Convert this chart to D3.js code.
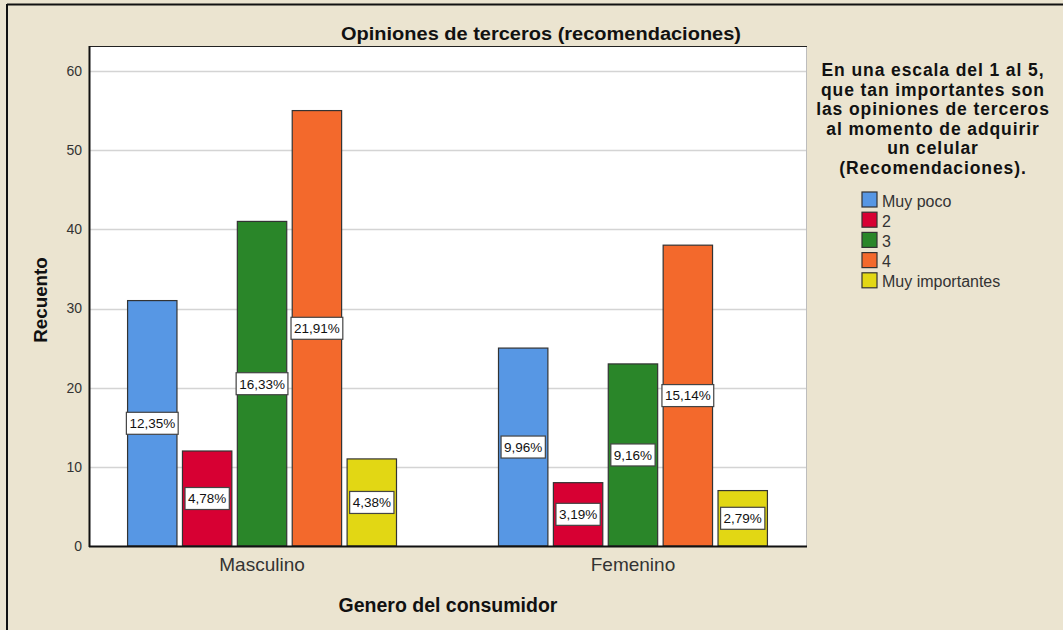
<!DOCTYPE html>
<html lang="es">
<head>
<meta charset="utf-8">
<script src="https://d3js.org/d3.v7.min.js"></script>
<style>
  body { margin: 0; background: #ebe4d0; }
  svg { display: block; font-family: Arial, "Liberation Sans", sans-serif; }
</style>
</head>
<body>
<script>
    var width  = 1063;
    var height = 630;

    // data
    var groups = ["Masculino", "Femenino"];
    var levels = ["Muy poco", "2", "3", "4", "Muy importantes"];
    var masculino = [31, 12, 41, 55, 11];
    var femenino  = [25, 8, 23, 38, 7];
    var yTicks = [0, 10, 20, 30, 40, 50, 60];
    var colours = ["#5797e4", "#d70033", "#2a8629", "#f3692c", "#e2d714"];

    var legendTitle = ["En una escala del 1 al 5,", "que tan importantes son",
                       "las opiniones de terceros", "al momento de adquirir",
                       "un celular", "(Recomendaciones)."];

    var counts = [masculino, femenino];
    var total = d3.sum(masculino) + d3.sum(femenino);

    // plot area (note: "top" is reserved on window, so use plotTop)
    var plotLeft = 89, plotRight = 806, plotTop = 46, plotBottom = 546;

    var svg = d3.select("body")
                .append("svg")
                .attr("width", width)
                .attr("height", height);

    // outer frame
    svg.append("rect").attr("x", 0).attr("y", 0).attr("width", width).attr("height", height)
       .style("fill", "#ebe4d0");
    svg.append("line").attr("x1", 7).attr("x2", width).attr("y1", 4.5).attr("y2", 4.5)
       .attr("stroke", "#111").attr("stroke-width", 2);
    svg.append("line").attr("x1", 7).attr("x2", 7).attr("y1", 4).attr("y2", height)
       .attr("stroke", "#111").attr("stroke-width", 2);

    var y = d3.scaleLinear().domain([0, 60]).range([plotBottom, 71]);
    var x0 = d3.scaleBand().domain(groups).range([plotLeft, plotRight])
               .paddingInner(0.275).paddingOuter(0.104);
    var x1 = d3.scaleBand().domain(levels).range([0, x0.bandwidth()])
               .paddingInner(0.1).paddingOuter(0);

    // plot background
    svg.append("rect").attr("x", plotLeft).attr("y", plotTop)
       .attr("width", plotRight - plotLeft).attr("height", plotBottom - plotTop)
       .style("fill", "#ffffff");

    // grid lines
    svg.append("g").selectAll("line").data(yTicks.slice(1)).enter()
       .append("line")
       .attr("x1", plotLeft).attr("x2", plotRight)
       .attr("y1", function (d) { return Math.round(y(d)) + 0.5; })
       .attr("y2", function (d) { return Math.round(y(d)) + 0.5; })
       .attr("stroke", "#d4d4d4").attr("stroke-width", 1.5);

    // right and top frame of the plot
    svg.append("line").attr("x1", plotRight + 0.5).attr("x2", plotRight + 0.5)
       .attr("y1", plotTop).attr("y2", plotBottom)
       .attr("stroke", "#bdbdbd");
    svg.append("line").attr("x1", plotLeft).attr("x2", plotRight + 1)
       .attr("y1", plotTop + 0.5).attr("y2", plotTop + 0.5)
       .attr("stroke", "#222");

    // bars
    var gGroups = svg.append("g").selectAll("g").data(groups).enter()
       .append("g")
       .attr("transform", function (d) { return "translate(" + x0(d) + ",0)"; });

    gGroups.selectAll("rect")
       .data(function (d, i) { return counts[i].map(function (v, j) { return { level: levels[j], value: v, c: colours[j] }; }); })
       .enter()
       .append("rect")
       .attr("x", function (d) { return x1(d.level); })
       .attr("y", function (d) { return y(d.value); })
       .attr("width", x1.bandwidth())
       .attr("height", function (d) { return plotBottom - y(d.value); })
       .style("fill", function (d) { return d.c; })
       .attr("stroke", "#333")
       .attr("stroke-width", 1.2);

    // percentage labels
    var fmt = function (v) { return (v / total * 100).toFixed(2).replace(".", ",") + "%"; };
    var labs = gGroups.selectAll("g.lab")
       .data(function (d, i) { return counts[i].map(function (v, j) { return { level: levels[j], value: v }; }); })
       .enter()
       .append("g").attr("class", "lab")
       .attr("transform", function (d) {
           return "translate(" + (x1(d.level) + x1.bandwidth() / 2) + "," + y(d.value / 2) + ")";
       });
    labs.append("text")
       .attr("text-anchor", "middle")
       .attr("dy", "0.36em")
       .style("font-size", "13.5px")
       .style("fill", "#111")
       .text(function (d) { return fmt(d.value); })
       .each(function () {
           var b = this.getBBox();
           d3.select(this.parentNode).insert("rect", "text")
             .attr("x", b.x - 3).attr("y", -11)
             .attr("width", b.width + 6).attr("height", 22)
             .style("fill", "#fff").attr("stroke", "#444").attr("stroke-width", 1.2);
       });

    // axes lines
    svg.append("line").attr("x1", plotLeft).attr("x2", plotRight + 1)
       .attr("y1", plotBottom + 0.5).attr("y2", plotBottom + 0.5)
       .attr("stroke", "#111").attr("stroke-width", 2);
    svg.append("line").attr("x1", plotLeft + 0.5).attr("x2", plotLeft + 0.5)
       .attr("y1", plotTop).attr("y2", plotBottom + 1)
       .attr("stroke", "#111").attr("stroke-width", 2);

    // y tick labels
    var yAxis = svg.append("g").attr("transform", "translate(" + plotLeft + ",0)")
       .call(d3.axisLeft(y).tickValues(yTicks).tickSize(0).tickPadding(7));
    yAxis.select(".domain").remove();
    yAxis.selectAll("text").style("font-size", "14px").style("fill", "#333")
       .style("font-family", "Arial, 'Liberation Sans', sans-serif");

    // x tick labels
    var xAxis = svg.append("g").attr("transform", "translate(0," + plotBottom + ")")
       .call(d3.axisBottom(x0).tickSize(0).tickPadding(12));
    xAxis.select(".domain").remove();
    xAxis.selectAll("text").style("font-size", "19px").style("fill", "#333")
       .style("font-family", "Arial, 'Liberation Sans', sans-serif");

    // titles
    svg.append("text").attr("x", 541).attr("y", 40).attr("text-anchor", "middle")
       .style("font-size", "18px").style("font-weight", "bold").style("fill", "#111")
       .attr("textLength", 400).attr("lengthAdjust", "spacingAndGlyphs")
       .text("Opiniones de terceros (recomendaciones)");

    svg.append("text").attr("x", 448).attr("y", 612).attr("text-anchor", "middle")
       .style("font-size", "19.5px").style("font-weight", "bold").style("fill", "#111")
       .text("Genero del consumidor");

    svg.append("text").attr("transform", "translate(47,300) rotate(-90)").attr("text-anchor", "middle")
       .style("font-size", "18.8px").style("font-weight", "bold").style("fill", "#111")
       .text("Recuento");

    // legend
    var legend = svg.append("g");
    legend.selectAll("text.lt").data(legendTitle).enter()
       .append("text").attr("class", "lt")
       .attr("x", 933).attr("y", function (d, i) { return 76 + i * 19.6; })
       .attr("text-anchor", "middle")
       .style("font-size", "17.5px").style("font-weight", "bold").style("fill", "#111")
       .style("letter-spacing", "0.9px")
       .text(function (d) { return d; });

    var items = legend.selectAll("g.item").data(levels).enter()
       .append("g").attr("class", "item")
       .attr("transform", function (d, i) { return "translate(862," + (192 + i * 20.2) + ")"; });
    items.append("rect").attr("width", 15).attr("height", 15)
       .style("fill", function (d, i) { return colours[i]; })
       .attr("stroke", "#333").attr("stroke-width", 1.2);
    items.append("text").attr("x", 20).attr("y", 14.5)
       .style("font-size", "16px").style("fill", "#333")
       .text(function (d) { return d; });
</script>
</body>
</html>
